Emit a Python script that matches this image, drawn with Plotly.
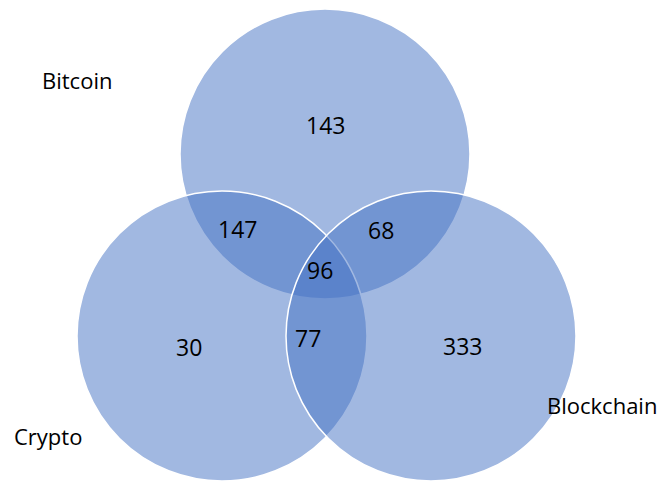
import plotly.graph_objects as go

# Data
set_names = ["Bitcoin", "Crypto", "Blockchain"]
region_names = ["Bitcoin only", "Crypto only", "Blockchain only",
                "Bitcoin & Crypto", "Bitcoin & Blockchain", "Crypto & Blockchain",
                "All three"]
region_counts = [143, 30, 333, 147, 68, 77, 96]

# Layout (pixel coordinates on axes)
W, H = 658, 481
circle_centers = [(325, 154), (222, 336), (431, 336)]
circle_radius = 145
set_label_pos = [(77, 80), (47.5, 436), (601.5, 405)]
region_label_pos = [(325.5, 125), (189, 347), (462, 346),
                    (237, 229), (381, 229.5), (308, 338), (319.5, 270)]

fill = "rgba(68,114,196,0.5)"
font_family = "Open Sans"

fig = go.Figure()
fig.add_trace(go.Scatter(x=[None], y=[None], showlegend=False, hoverinfo="skip"))

for (cx, cy) in circle_centers:
    fig.add_shape(type="circle", xref="x", yref="y",
                  x0=cx - circle_radius, x1=cx + circle_radius,
                  y0=cy - circle_radius, y1=cy + circle_radius,
                  fillcolor=fill, line=dict(color="white", width=1.5))

for name, (x, y) in zip(set_names, set_label_pos):
    fig.add_annotation(x=x, y=y, text=name, showarrow=False,
                       xanchor="center", yanchor="middle",
                       font=dict(family=font_family, size=22, color="black"))

for val, (x, y) in zip(region_counts, region_label_pos):
    fig.add_annotation(x=x, y=y, text=str(val), showarrow=False,
                       xanchor="center", yanchor="middle",
                       font=dict(family=font_family, size=23, color="black"))

fig.update_layout(
    width=W, height=H,
    margin=dict(l=0, r=0, t=0, b=0),
    paper_bgcolor="white", plot_bgcolor="white",
    xaxis=dict(range=[0, W], visible=False, fixedrange=True),
    yaxis=dict(range=[H, 0], visible=False, fixedrange=True),
    showlegend=False,
)

fig.write_html("out.html")
